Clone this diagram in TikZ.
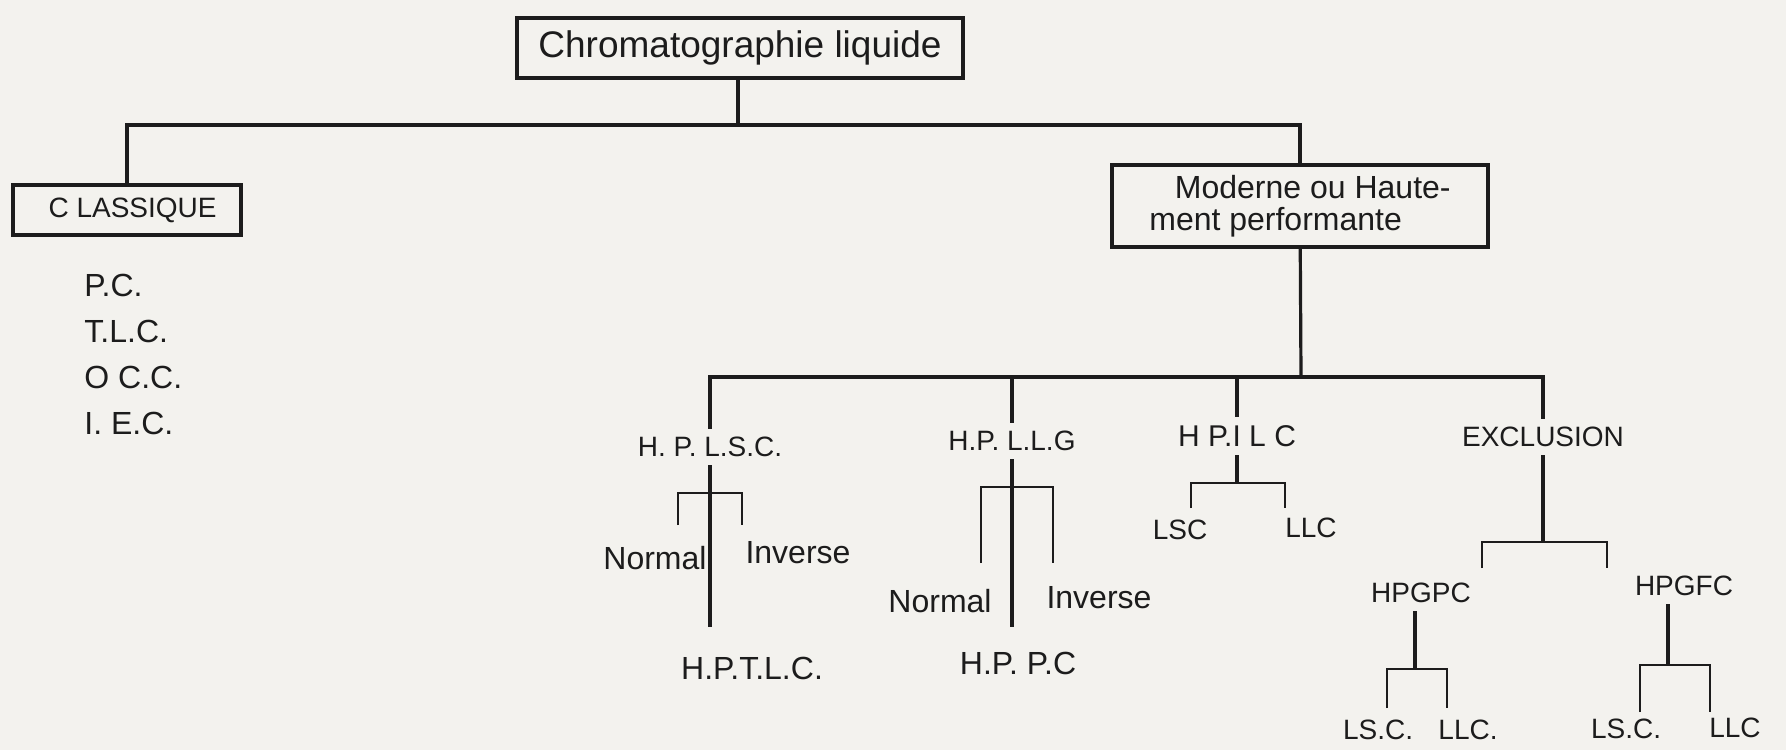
\documentclass[tikz,border=0pt]{standalone}
\usepackage{fontspec}
\setmainfont{Liberation Sans}
\usepackage{tikz}
\usetikzlibrary{positioning,calc}
\definecolor{paper}{RGB}{243,242,238}
\definecolor{ink}{RGB}{28,28,28}
\tikzset{
  box/.style={rectangle, draw=ink, line width=2.2pt, align=center, inner sep=2pt, text=ink},
  lab/.style={text=ink, font=\fontsize{14}{16}\selectfont, inner sep=4pt},
  big/.style={text=ink, font=\fontsize{16}{19}\selectfont, inner sep=4pt},
  tree/.style={draw=ink, line width=1.6pt},
  fork/.style={draw=ink, line width=1.4pt}
}

\begin{document}
\begin{tikzpicture}[x=0.5pt, y=-0.5pt]
  \fill[paper] (0,0) rectangle (1786,750);
  \useasboundingbox (0,0) rectangle (1786,750);

  % first level
  \node[box, minimum width=223pt, minimum height=30pt, font=\fontsize{18.5}{21}\selectfont] (chrom) at (740,48) {Chromatographie liquide};
  \node[box, minimum width=114pt, minimum height=25pt, font=\fontsize{14}{16}\selectfont] (classique) at (127,210) {\hspace*{0.4em}C LASSIQUE};
  \node[box, minimum width=188pt, minimum height=41pt, align=left, font=\fontsize{16}{16}\selectfont] (moderne) at (1300,206) {\hspace*{0.8em}Moderne ou Haute-\\ment performante};
  \coordinate (j1) at (738,125);
  \draw[tree] (chrom.south -| j1) -- (j1);
  \draw[tree] (classique.north) |- (j1) -| (moderne.north);

  \node[big, align=left, anchor=north west, font=\fontsize{16}{23}\selectfont] (clist) at (76,266) {P.C.\\T.L.C.\\O C.C.\\I. E.C.};

  % second level
  \node[lab] (hplsc) at (710,447) {H. P. L.S.C.};
  \node[lab] (hpllg) at (1012,441) {H.P. L.L.G};
  \node[lab, font=\fontsize{15}{17}\selectfont] (hpilc) at (1237,436) {H P.I L C};
  \node[lab] (exclusion) at (1543,437) {EXCLUSION};
  \coordinate (j2) at (1301,377);
  \draw[tree] (moderne) -- (j2);
  \draw[tree] (hplsc.north) |- (j2) -| (exclusion.north);
  \draw[tree] (hpllg.north) -- (hpllg.north |- j2);
  \draw[tree] (hpilc.north) -- (hpilc.north |- j2);

  % H.P.L.S.C.
  \node[big] (normal1) at (655,558) {Normal};
  \node[big] (inverse1) at (798,553) {Inverse};
  \node[big] (hptlc) at (752,668) {H.P.T.L.C.};
  \coordinate (f1) at (710,493);
  \coordinate (e1) at (710,627);
  \coordinate (l1) at (678,525);
  \coordinate (r1) at (742,525);
  \draw[tree] (hplsc.south) -- (e1);
  \draw[fork] (l1) |- (f1) -| (r1);

  % H.P.L.L.G
  \node[big] (normal2) at (940,601) {Normal};
  \node[big] (inverse2) at (1099,598) {Inverse};
  \node[big] (hppc) at (1018,663) {H.P. P.C};
  \coordinate (f2) at (1012,487);
  \coordinate (e2) at (1012,627);
  \coordinate (l2) at (981,563);
  \coordinate (r2) at (1053,563);
  \draw[tree] (hpllg.south) -- (e2);
  \draw[fork] (l2) |- (f2) -| (r2);

  % H.P.I.L.C
  \node[lab] (lsc3) at (1180,530) {LSC};
  \node[lab] (llc3) at (1311,528) {LLC};
  \coordinate (f3) at (1237,483);
  \coordinate (l3) at (1191,508);
  \coordinate (r3) at (1285,508);
  \draw[tree] (hpilc.south) -- (f3);
  \draw[fork] (l3) |- (f3) -| (r3);

  % exclusion
  \node[lab] (hpgpc) at (1421,593) {HPGPC};
  \node[lab] (hpgfc) at (1684,586) {HPGFC};
  \coordinate (f5) at (1543,542);
  \coordinate (l5) at (1482,568);
  \coordinate (r5) at (1607,568);
  \draw[tree] (exclusion.south) -- (f5);
  \draw[fork] (l5) |- (f5) -| (r5);

  \node[lab] (lsc6) at (1378,730) {LS.C.};
  \node[lab] (llc6) at (1468,730) {LLC.};
  \coordinate (f6) at (1415,669);
  \coordinate (l6) at (1387,708);
  \coordinate (r6) at (1447,708);
  \draw[tree] (hpgpc.south -| f6) -- (f6);
  \draw[fork] (l6) |- (f6) -| (r6);

  \node[lab] (lsc7) at (1626,729) {LS.C.};
  \node[lab] (llc7) at (1735,728) {LLC};
  \coordinate (f7) at (1668,665);
  \coordinate (l7) at (1640,712);
  \coordinate (r7) at (1710,712);
  \draw[tree] (hpgfc.south -| f7) -- (f7);
  \draw[fork] (l7) |- (f7) -| (r7);
\end{tikzpicture}
\end{document}
